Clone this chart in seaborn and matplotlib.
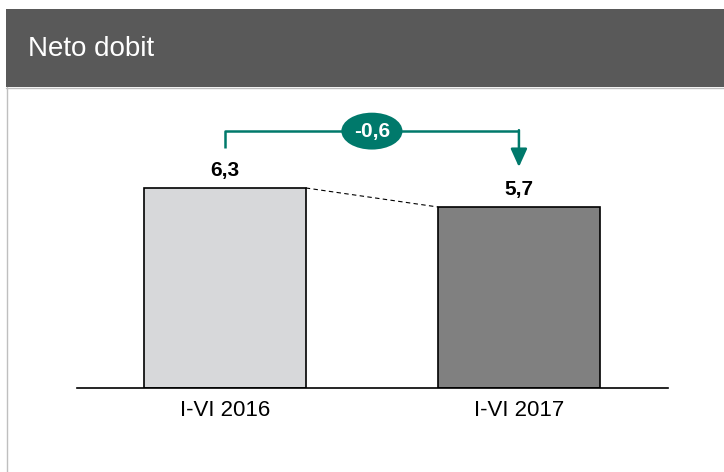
import matplotlib
matplotlib.use("Agg")
import matplotlib.pyplot as plt
import matplotlib.patches as mpatches
import matplotlib.lines as mlines
import seaborn as sns
import pandas as pd

# chart data
categories = ["I-VI 2016", "I-VI 2017"]
values = [6.3, 5.7]
bar_colors = ["#D7D8DA", "#808080"]
title = "Neto dobit"

TEAL = "#00796B"
HEADER = "#595959"

sns.set_theme(style="white")
plt.rcParams["font.family"] = ["Liberation Sans", "DejaVu Sans"]

df = pd.DataFrame({"period": categories, "value": values})

fig = plt.figure(figsize=(7.24, 4.72), dpi=100)

# header band and frame lines
fig.patches.append(mpatches.Rectangle((6 / 724, 1 - 87 / 472), 1, 78 / 472,
                                      transform=fig.transFigure, fc=HEADER, ec="none"))
fig.lines.append(mlines.Line2D([6.5 / 724, 6.5 / 724], [0, 1 - 87 / 472],
                               transform=fig.transFigure, color="#BFBFBF", lw=1))
fig.lines.append(mlines.Line2D([6 / 724, 1], [1 - 88 / 472, 1 - 88 / 472],
                               transform=fig.transFigure, color="#BFBFBF", lw=1))
fig.text(28 / 724, 1 - 49 / 472, title, color="white", fontsize=20, va="center", ha="left")

ax = fig.add_axes([77 / 724, 84 / 472, 591 / 724, 288 / 472])
sns.barplot(data=df, x="period", y="value", hue="period", palette=bar_colors,
            edgecolor="black", linewidth=1.2, width=0.55, legend=False, ax=ax)

ax.set_xlim(-0.503, 1.507)
ax.set_ylim(0, 9.07)
ax.set_xlabel("")
ax.set_ylabel("")
ax.set_yticks([])
ax.tick_params(axis="x", length=0, labelsize=16, pad=9, colors="black")
for s in ["top", "right", "left"]:
    ax.spines[s].set_visible(False)
ax.spines["bottom"].set_color("black")
ax.spines["bottom"].set_linewidth(1.2)
ax.patch.set_alpha(0)

# value labels
for i, v in enumerate(values):
    ax.text(i, v + 0.26, f"{v:.1f}".replace(".", ","), ha="center", va="bottom",
            fontsize=15, fontweight="bold", color="black")

# dashed connector between bar tops
half = 0.275
ax.plot([0 + half, 1 - half], [values[0], values[1]], color="black", lw=0.8, ls=(0, (4, 3)))

# change bracket
top_y = 8.09
ax.plot([0, 0, 1], [7.56, top_y, top_y], color=TEAL, lw=1.8, solid_capstyle="butt")
ax.annotate("", xy=(1, 6.96), xytext=(1, top_y + 0.03),
            arrowprops=dict(arrowstyle="-|>,head_length=0.55,head_width=0.25",
                            mutation_scale=20, color=TEAL, lw=1.8, shrinkA=0, shrinkB=0))
diff = values[1] - values[0]
ax.text(0.5, top_y, f"{diff:.1f}".replace(".", ","), ha="center", va="center",
        fontsize=15, fontweight="bold", color="white",
        bbox=dict(boxstyle="ellipse,pad=0.17", fc=TEAL, ec="none"))

fig.savefig("out.png", dpi=100)
